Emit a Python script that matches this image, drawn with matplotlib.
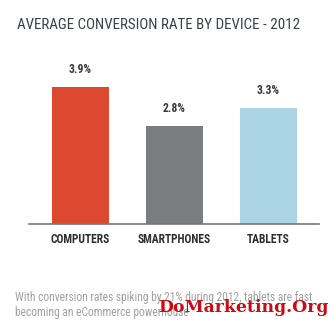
import matplotlib
matplotlib.use('Agg')
import matplotlib.pyplot as plt

# dados do grafico
categorias = ['COMPUTERS', 'SMARTPHONES', 'TABLETS']
taxas = [3.9, 2.8, 3.3]
rotulos = ['3.9%', '2.8%', '3.3%']
cores = ['#dd4830', '#7c7d80', '#aad3e3']

titulo = 'AVERAGE CONVERSION RATE BY DEVICE - 2012'
nota1 = 'With conversion rates spiking by 21% during 2012, tablets are fast'
nota2 = 'becoming an eCommerce powerhouse'
marca = 'DoMarketing.Org'

fonte = ['Roboto Condensed', 'DejaVu Sans']

fig = plt.figure(figsize=(3.34, 3.24), dpi=100)
ax = fig.add_axes([0.0868, 0.310, 0.868, 0.5355])

ax.bar(range(len(categorias)), taxas, width=0.606, color=cores)
ax.set_xlim(-0.548, 2.537)
ax.set_ylim(0, 4.96)

for i, (v, r) in enumerate(zip(taxas, rotulos)):
    ax.annotate(r, (i, v), xytext=(0, 8), textcoords='offset points',
                ha='center', va='bottom', fontsize=8.5, fontweight='bold',
                color='#3a3a3a', family=fonte)

ax.set_xticks(range(len(categorias)))
ax.set_xticklabels(categorias, fontsize=8.3, fontweight='bold', color='#2e2e2e', family=fonte)
ax.tick_params(axis='x', length=0, pad=7)
ax.set_yticks([])
for s in ['top', 'right', 'left']:
    ax.spines[s].set_visible(False)
ax.spines['bottom'].set_color('#777777')
ax.spines['bottom'].set_linewidth(1.2)

fig.text(0.051, 0.923, titulo, fontsize=10.8, color='#354349', family=fonte, va='center')
fig.text(0.045, 0.083, nota1, fontsize=8.3, color='#a0a0a0', family=fonte, va='center')
fig.text(0.045, 0.037, nota2, fontsize=8.3, color='#a0a0a0', family=fonte, va='center')
fig.text(0.473, 0.052, marca, fontsize=12.4, fontweight='bold',
         color='#cc0a14', family=['Roboto Slab', 'DejaVu Serif'], va='center')

fig.savefig('out.png', dpi=100)
